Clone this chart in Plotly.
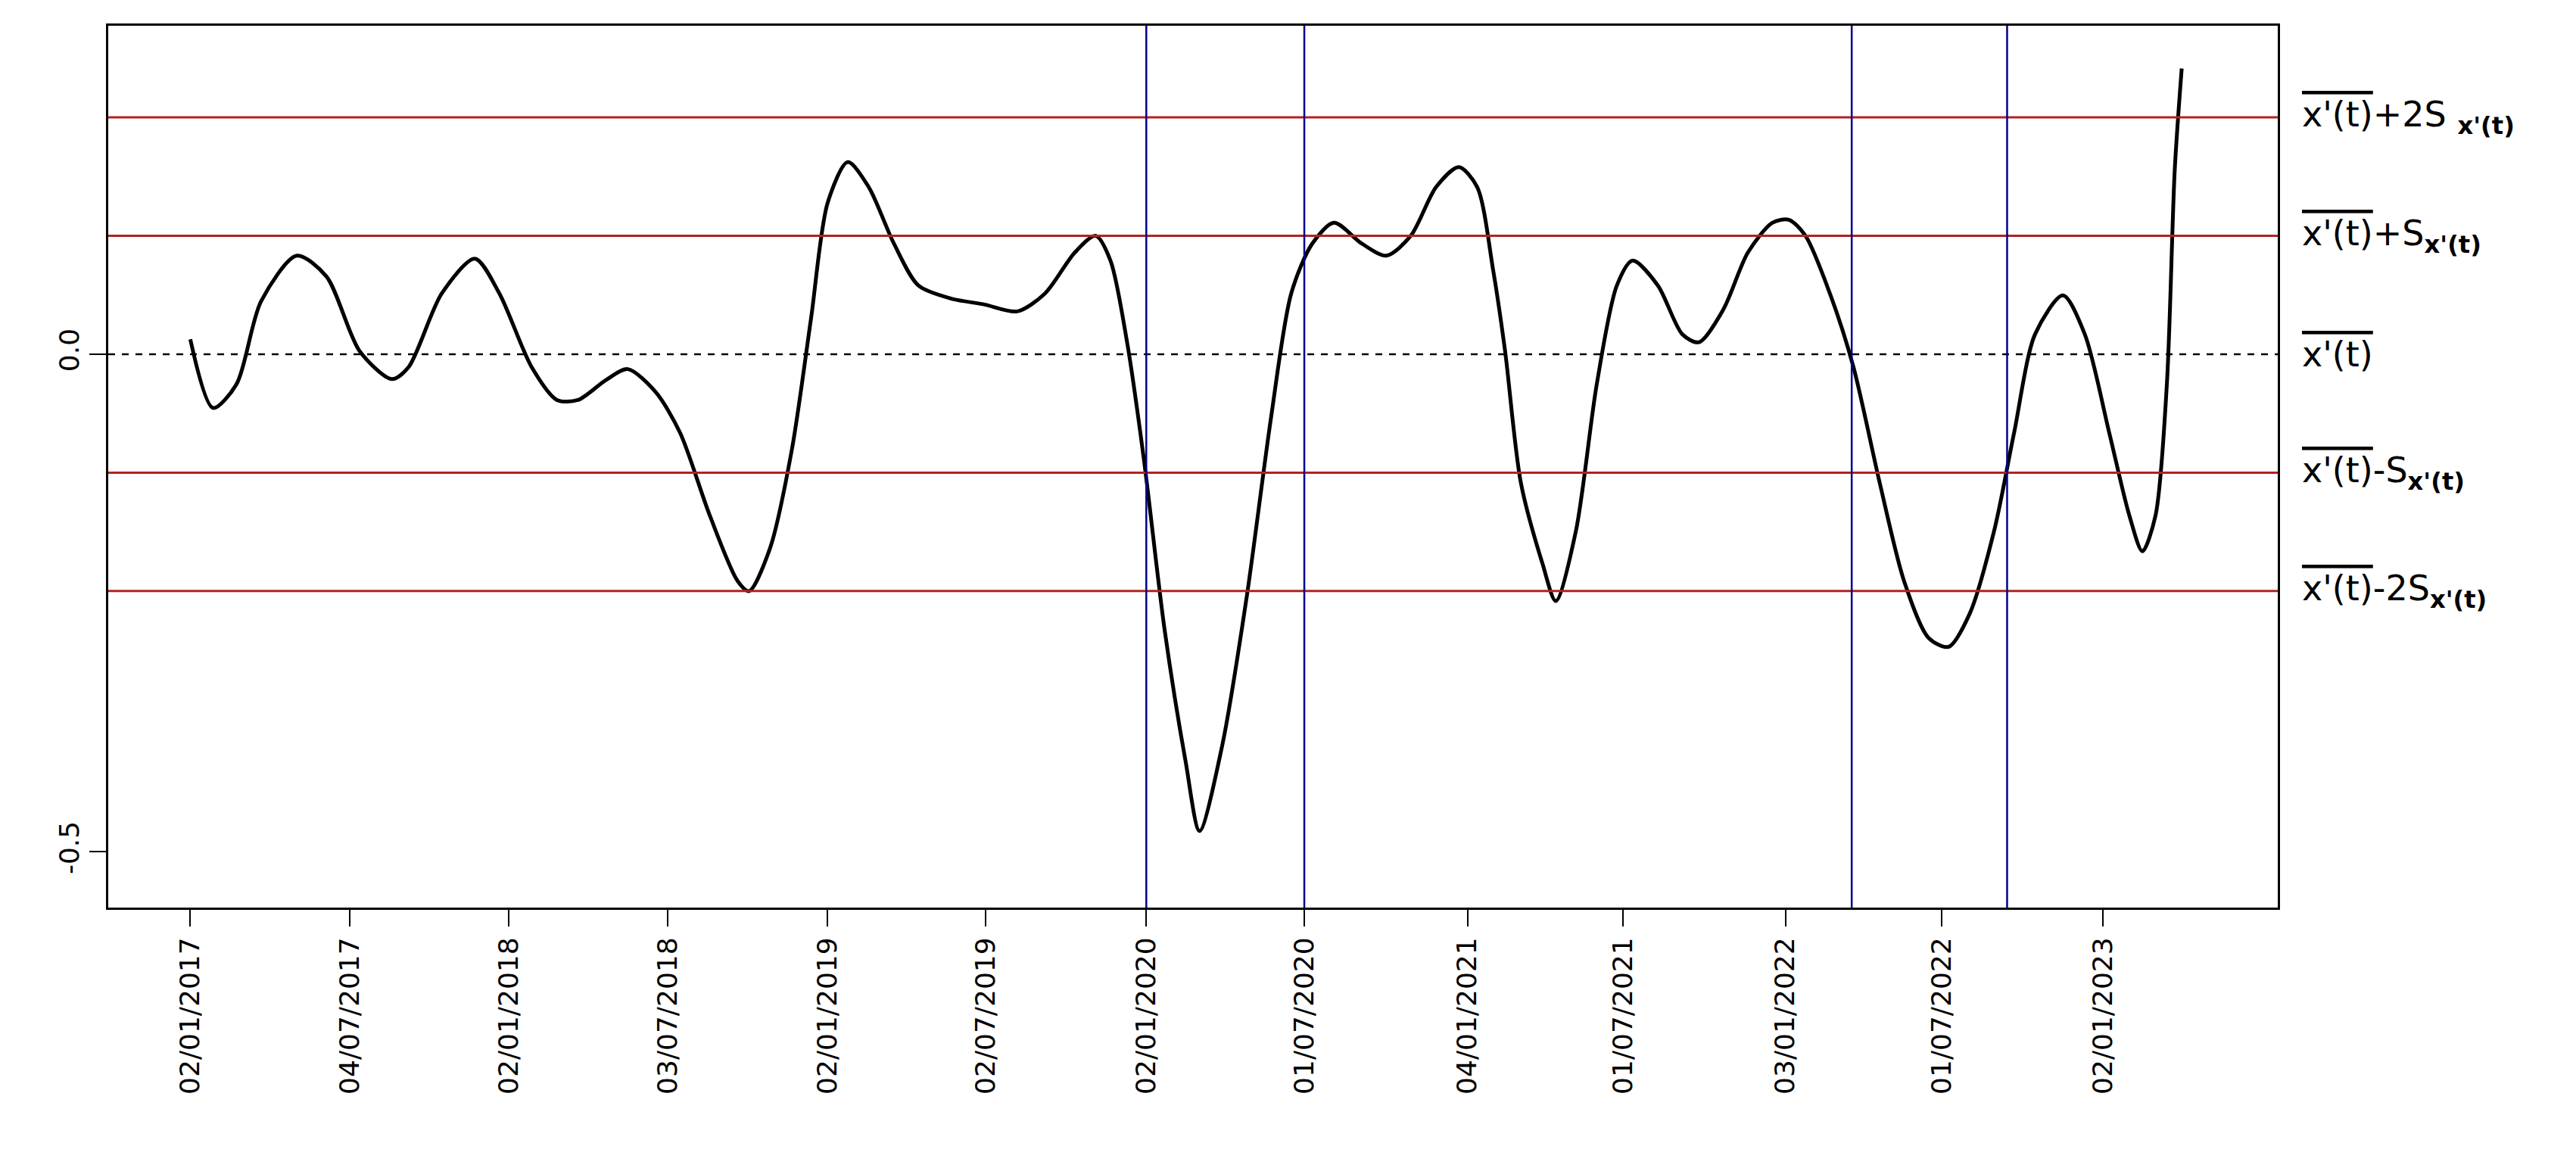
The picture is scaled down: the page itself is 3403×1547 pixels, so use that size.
import pandas as pd
import plotly.graph_objects as go

start = pd.Timestamp("2017-01-02")
day_offsets = [0,26,53,81,122,156,194,231,250,288,326,354,391,420,444,476,501,533,561,595,627,640,664,689,711,730,753,777,806,834,871,909,947,979,1013,1037,1054,1073,1092,1116,1140,1156,1182,1210,1238,1261,1285,1310,1342,1370,1398,1427,1453,1474,1492,1506,1524,1549,1564,1587,1611,1634,1652,1681,1709,1728,1756,1784,1812,1831,1850,1878,1905,1935,1963,1991,2014,2038,2066,2089,2113,2145,2170,2198,2221,2236,2251,2264,2273,2281]
values = [0.015,-0.054,-0.030,0.053,0.099,0.078,0.003,-0.025,-0.013,0.061,0.096,0.061,-0.013,-0.046,-0.046,-0.026,-0.015,-0.038,-0.079,-0.162,-0.228,-0.238,-0.195,-0.096,0.036,0.152,0.193,0.168,0.111,0.069,0.056,0.050,0.043,0.061,0.102,0.119,0.094,0.012,-0.104,-0.277,-0.409,-0.479,-0.393,-0.244,-0.063,0.061,0.111,0.132,0.111,0.099,0.119,0.168,0.188,0.168,0.086,0.003,-0.129,-0.211,-0.248,-0.178,-0.030,0.069,0.094,0.069,0.020,0.012,0.045,0.102,0.132,0.135,0.119,0.061,-0.013,-0.129,-0.228,-0.285,-0.294,-0.261,-0.178,-0.079,0.020,0.059,0.020,-0.079,-0.162,-0.198,-0.162,-0.030,0.185,0.287]
dates = [start + pd.Timedelta(days=d) for d in day_offsets]

tick_dates = ["2017-01-02","2017-07-04","2018-01-02","2018-07-03","2019-01-02","2019-07-02",
              "2020-01-02","2020-07-01","2021-01-04","2021-07-01","2022-01-03","2022-07-01","2023-01-02"]
tick_labels = ["02/01/2017","04/07/2017","02/01/2018","03/07/2018","02/01/2019","02/07/2019",
               "02/01/2020","01/07/2020","04/01/2021","01/07/2021","03/01/2022","01/07/2022","02/01/2023"]
mean_level = 0.0
sd_level = 0.119
band_multipliers = [2, 1, -1, -2]
blue_dates = ["2020-01-02", "2020-07-01", "2022-03-20", "2022-09-14"]

fig = go.Figure()
fig.add_trace(go.Scatter(x=dates, y=values, mode="lines", line=dict(color="black", width=5, shape="spline", smoothing=0.8), showlegend=False))

for m in band_multipliers:
    fig.add_hline(y=mean_level + m * sd_level, line=dict(color="#b22222", width=3))
fig.add_hline(y=mean_level, line=dict(color="black", width=2.5, dash="dash"))
for d in blue_dates:
    fig.add_vline(x=d, line=dict(color="#00008b", width=2.5))

ov = '<span style="text-decoration:overline">x\'(t)</span>'
sub = "<sub><b>x'(t)</b></sub>"
label_texts = [ov + "+2S " + sub, ov + "+S" + sub, ov, ov + "-S" + sub, ov + "-2S" + sub]
label_levels = [2, 1, 0, -1, -2]
for t, m in zip(label_texts, label_levels):
    fig.add_annotation(x=1.0, xref="paper", xanchor="left", xshift=30, y=mean_level + m * sd_level, yref="y",
                       text=t, showarrow=False, font=dict(family="DejaVu Sans", size=46, color="black"))

fig.update_layout(
    width=3403, height=1547, plot_bgcolor="white", paper_bgcolor="white",
    margin=dict(l=135, r=402, t=26, b=356),
    font=dict(family="DejaVu Sans", color="black"),
    xaxis=dict(range=["2016-09-30", "2023-07-21"], tickvals=tick_dates, ticktext=tick_labels, tickangle=-90,
               ticks="outside", ticklen=22, tickwidth=2, tickcolor="black", showgrid=False, zeroline=False,
               showline=True, linecolor="black", linewidth=3, mirror=True, tickfont=dict(size=36)),
    yaxis=dict(range=[-0.556, 0.33], tickvals=[-0.5, 0.0], ticktext=["-0.5", "0.0"], tickangle=-90,
               ticks="outside", ticklen=22, tickwidth=2, tickcolor="black", showgrid=False, zeroline=False,
               showline=True, linecolor="black", linewidth=3, mirror=True, tickfont=dict(size=36)),
)
fig.write_html("out.html")
